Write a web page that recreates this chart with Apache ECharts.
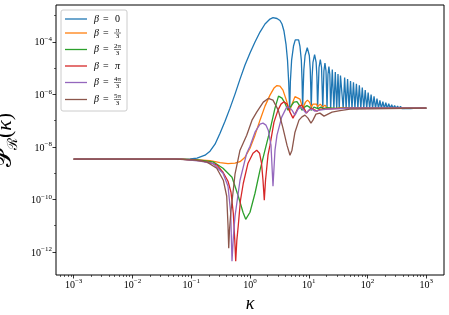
<!DOCTYPE html>
<html><head><meta charset="utf-8">
<script src="https://cdn.jsdelivr.net/npm/echarts@6/dist/echarts.min.js"></script>
<style>html,body{margin:0;padding:0;background:#fff}#c{width:449px;height:315px}</style>
</head><body><div id="c"></div>
<script>
// Values, stored as base-10 exponents (log10 kappa, log10 P)
const betaNum = ['0','π','2π','π','4π','5π'];
const betaDen = ['','3','3','','3','3'];
const xTickExp = [-3,-2,-1,0,1,2,3];
const yTickExp = [-12,-10,-8,-6,-4];
const yMinorExp = [-11,-9,-7,-5,-3];

const blueLogK = [-3,-1.19,-1.02,-0.901,-0.765,-0.68,-0.595,-0.51,-0.425,-0.34,-0.255,-0.17,-0.085,0,0.085,0.17,0.255,0.34,0.391,0.459,0.51,0.544,0.578,0.612,0.638,0.658,0.675,
 0.687,0.708,0.740,0.770,0.798,0.827,0.849,0.873,0.886,0.895,
 0.904,0.916,0.937,0.974,1.009,1.025,1.035,1.041,
 1.0565,1.071,1.099,1.125,1.138,1.150,
 1.174,1.196,1.217,1.238,
 1.257,1.275,1.293,1.310,
 1.326,1.342,1.358,1.372,
 1.400,1.427,1.451,1.475,1.497,1.518,1.539,
 1.56,1.585,1.61,1.635,1.66,1.685,1.71,1.735,1.76,1.785,1.81,1.835,1.86,1.885,1.91,1.935,1.96,1.985,2.01,2.035,2.06,2.085,2.11,2.135,2.16,2.185,2.21,2.235,2.26,2.285,2.31,2.335,2.36,2.385,2.41,2.435,2.46,2.485,2.51,2.535,2.56,2.585,2.61,2.635,2.66,2.685,2.71,2.735,2.76,2.785,2.81,2.835,2.86,2.885,2.91,2.935,2.96,2.985,3.0];
const blueLogP = [-8.469,-8.469,-8.461,-8.431,-8.317,-8.164,-7.897,-7.478,-7.021,-6.525,-5.992,-5.42,-4.887,-4.429,-4.01,-3.629,-3.324,-3.134,-3.084,-3.114,-3.191,-3.324,-3.591,-4.086,-4.696,-5.534,-6.602,
 -5.496,-4.696,-4.162,-3.927,-3.858,-3.927,-4.162,-4.696,-5.496,-6.602,
 -5.83,-5.054,-4.521,-4.22,-4.521,-5.054,-5.83,-6.602,
 -5.32,-4.787,-4.486,-4.787,-5.32,-6.55,
 -4.978,-4.677,-4.978,-6.55,
 -5.11,-4.81,-5.11,-6.55,
 -5.245,-4.944,-5.245,-6.55,
 -5.058,-6.55,-5.153,-6.55,-5.23,-6.55,-5.287,
 -5.268,-6.54,-5.36,-6.54,-5.42,-6.54,-5.49,-6.54,-5.545,-6.54,-5.60,-6.54,-5.66,-6.54,-5.74,-6.54,-5.84,-6.54,-5.93,-6.54,-6.01,-6.54,-6.08,-6.54,-6.16,-6.54,-6.23,-6.54,-6.28,-6.54,-6.32,-6.54,-6.36,-6.54,-6.40,-6.54,-6.425,-6.54,-6.445,-6.54,-6.46,-6.54,-6.475,-6.54,-6.487,-6.54,-6.496,-6.54,-6.504,-6.538,-6.511,-6.535,-6.516,-6.532,-6.521,-6.53,-6.524,-6.528,-6.525];

const orangeLogK = [-3,-1.19,-0.935,-0.68,-0.51,-0.374,-0.255,-0.17,-0.085,0,0.085,0.17,0.255,0.34,0.408,0.459,0.51,0.561,0.612,0.675,0.714,0.765,0.799,0.85,0.898,0.944,0.978,1.012,1.044,1.071,1.099,1.131,1.15,1.196,1.238,1.275,1.31,1.342,1.372,1.4,1.427,1.451,1.475,1.531,1.701,3];
const orangeLogP = [-8.469,-8.469,-8.488,-8.526,-8.602,-8.64,-8.621,-8.564,-8.393,-8.05,-7.554,-6.983,-6.449,-6.03,-5.763,-5.668,-5.687,-5.839,-6.182,-6.64,-6.373,-6.087,-6.03,-6.182,-6.525,-6.297,-6.22,-6.297,-6.487,-6.373,-6.316,-6.373,-6.468,-6.373,-6.487,-6.411,-6.506,-6.449,-6.525,-6.48,-6.533,-6.498,-6.537,-6.514,-6.525,-6.525];

const greenLogK = [-3,-1.19,-0.85,-0.629,-0.459,-0.306,-0.204,-0.119,-0.073,0,0.085,0.17,0.255,0.34,0.425,0.485,0.544,0.595,0.646,0.697,0.748,0.799,0.85,0.884,0.927,0.969,1.012,1.046,1.088,1.122,1.156,1.207,1.25,1.31,1.446,1.701,3];
const greenLogP = [-8.469,-8.469,-8.507,-8.572,-8.812,-9.155,-9.841,-10.489,-10.756,-10.489,-9.765,-8.888,-8.126,-7.364,-6.525,-6.068,-6.144,-6.335,-6.602,-6.449,-6.297,-6.278,-6.449,-6.602,-6.487,-6.43,-6.487,-6.602,-6.487,-6.449,-6.545,-6.487,-6.545,-6.506,-6.537,-6.525,-6.525];

const redLogK = [-3,-1.19,-0.85,-0.68,-0.561,-0.459,-0.374,-0.323,-0.284,-0.259,-0.243,-0.224,-0.199,-0.162,-0.114,-0.034,0.051,0.114,0.162,0.196,0.221,0.243,0.264,0.306,0.34,0.408,0.476,0.527,0.578,0.629,0.68,0.731,0.782,0.833,0.876,0.918,0.961,1.003,1.046,1.088,1.139,1.19,1.276,1.446,1.701,3];
const redLogP = [-8.469,-8.469,-8.526,-8.602,-8.697,-8.964,-9.307,-9.727,-10.527,-11.556,-12.356,-11.556,-10.984,-10.031,-9.384,-8.621,-8.24,-8.126,-8.24,-8.621,-9.269,-10.031,-9.269,-8.317,-7.935,-7.059,-6.602,-6.373,-6.285,-6.373,-6.678,-6.906,-6.678,-6.449,-6.411,-6.525,-6.716,-6.602,-6.525,-6.582,-6.64,-6.563,-6.563,-6.545,-6.525,-6.525];

const purpleLogK = [-3,-1.19,-0.85,-0.629,-0.459,-0.374,-0.328,-0.306,-0.281,-0.255,-0.17,-0.056,0,0.085,0.17,0.221,0.272,0.311,0.357,0.391,0.425,0.459,0.539,0.624,0.663,0.714,0.765,0.816,0.859,0.901,0.952,1.003,1.054,1.105,1.19,1.31,1.531,1.701,3];
const purpleLogP = [-8.469,-8.469,-8.545,-8.632,-9.002,-9.498,-10.527,-12.356,-11.366,-10.641,-9.269,-8.24,-7.974,-7.44,-7.135,-7.097,-7.173,-7.364,-7.935,-9.498,-8.126,-7.554,-6.868,-6.487,-6.487,-6.602,-6.792,-6.563,-6.487,-6.563,-6.716,-6.602,-6.563,-6.64,-6.602,-6.563,-6.545,-6.525,-6.525];

const brownLogK = [-3,-1.276,-0.935,-0.736,-0.566,-0.454,-0.396,-0.374,-0.362,-0.349,-0.328,-0.255,-0.17,-0.056,0.034,0.114,0.226,0.311,0.391,0.481,0.561,0.629,0.68,0.714,0.765,0.833,0.884,0.935,0.986,1.037,1.071,1.122,1.19,1.259,1.327,1.395,1.531,1.701,3];
const brownLogP = [-8.469,-8.469,-8.507,-8.572,-8.812,-9.269,-9.879,-10.984,-11.861,-11.175,-10.527,-9.041,-8.126,-7.554,-6.983,-6.678,-6.297,-6.156,-6.22,-6.602,-7.287,-7.935,-8.317,-8.126,-7.44,-6.983,-6.857,-6.792,-6.906,-7.097,-6.983,-6.754,-6.716,-6.83,-6.754,-6.678,-6.621,-6.563,-6.525];

const seriesK = [blueLogK, orangeLogK, greenLogK, redLogK, purpleLogK, brownLogK];
const seriesP = [blueLogP, orangeLogP, greenLogP, redLogP, purpleLogP, brownLogP];
const colors = ['#1f77b4','#ff7f0e','#2ca02c','#d62728','#9467bd','#8c564b'];

const minorX = [];
for (let n = -4; n <= 3; n++) for (let m = 2; m <= 9; m++) { const v = n + Math.log10(m); if (v > -3.3 && v < 3.3) minorX.push(v); }

const chart = echarts.init(document.getElementById('c'), null, {renderer: 'canvas'});
const serif = "'Liberation Serif','DejaVu Serif',serif";
const powRich = {
  b: {fontFamily: serif, fontSize: 10, color: '#000', verticalAlign: 'bottom', lineHeight: 12},
  s: {fontFamily: serif, fontSize: 7, color: '#000', verticalAlign: 'bottom', lineHeight: 12, padding: [0,0,5,0]}
};
const powFmt = v => '{b|10}{s|' + (v < 0 ? '\u2212' + Math.abs(Math.round(v)) : Math.round(v)) + '}';

const series = seriesK.map((ks, i) => ({
  type: 'line', xAxisIndex: 0, yAxisIndex: 0,
  data: ks.map((k, j) => [k, seriesP[i][j]]),
  showSymbol: false, symbol: 'none', smooth: false,
  lineStyle: {width: 1.3, color: colors[i]}, itemStyle: {color: colors[i]},
  animation: false, z: 2 + i
}));

// legend built as graphic
const rowY = [19, 33, 49.5, 66, 82.5, 99.5];
const g = [{type: 'rect', shape: {x: 61, y: 10, width: 66, height: 101, r: 2}, style: {fill: 'rgba(255,255,255,0.8)', stroke: '#cccccc', lineWidth: 1}, z: 50}];
rowY.forEach((y, i) => {
  g.push({type: 'line', shape: {x1: 65, y1: y, x2: 87, y2: y}, style: {stroke: colors[i], lineWidth: 1.3}, z: 51});
  g.push({type: 'text', x: 94, y: y, style: {text: 'β', font: 'italic 10px ' + serif, fill: '#000', verticalAlign: 'middle'}, z: 51});
  g.push({type: 'text', x: 103, y: y, style: {text: '=', font: '10px ' + serif, fill: '#000', verticalAlign: 'middle'}, z: 51});
  if (betaDen[i] === '') {
    g.push({type: 'text', x: 115, y: y, style: {text: betaNum[i], font: (betaNum[i]==='π'?'italic ':'') + '10px ' + serif, fill: '#000', verticalAlign: 'middle'}, z: 51});
  } else {
    g.push({type: 'text', x: 117.5, y: y - 3.2, style: {text: betaNum[i], font: '7px ' + serif, fill: '#000', align: 'center', verticalAlign: 'middle'}, z: 51});
    g.push({type: 'line', shape: {x1: 114, y1: y, x2: 121, y2: y}, style: {stroke: '#000', lineWidth: 0.5}, z: 51});
    g.push({type: 'text', x: 117.5, y: y + 3.6, style: {text: betaDen[i], font: '7px ' + serif, fill: '#000', align: 'center', verticalAlign: 'middle'}, z: 51});
  }
});

chart.setOption({
  animation: false,
  backgroundColor: '#fff',
  grid: {left: 56, right: 5, top: 5, bottom: 40, containLabel: false, outerBoundsMode: 'none', show: true, borderColor: '#000', borderWidth: 1, backgroundColor: 'transparent'},
  xAxis: [{
    type: 'value', min: -3.3, max: 3.3, position: 'bottom',
    axisLine: {show: false, onZero: false}, splitLine: {show: false},
    axisTick: {show: true, customValues: xTickExp, length: 3.5, lineStyle: {color: '#000', width: 0.8}},
    axisLabel: {show: true, customValues: xTickExp, formatter: powFmt, rich: powRich, margin: 3},
    name: 'κ', nameLocation: 'middle', nameGap: 19,
    nameTextStyle: {fontFamily: serif, fontStyle: 'italic', fontSize: 18, color: '#000'}
  }, {
    type: 'value', min: -3.3, max: 3.3, position: 'bottom',
    axisLine: {show: false, onZero: false}, splitLine: {show: false},
    axisTick: {show: true, customValues: minorX, length: 2, lineStyle: {color: '#000', width: 0.6}},
    axisLabel: {show: false}
  }],
  yAxis: [{
    type: 'value', min: -12.876, max: -2.6, position: 'left',
    axisLine: {show: false, onZero: false}, splitLine: {show: false},
    axisTick: {show: true, customValues: yTickExp, length: 3.5, lineStyle: {color: '#000', width: 0.8}},
    axisLabel: {show: true, customValues: yTickExp, formatter: powFmt, rich: powRich, margin: 4},
    name: '{p|𝒫}{r|ℛ}{q|(}{k|κ}{q|)}', nameLocation: 'middle', nameGap: 24, nameRotate: 90,
    nameTextStyle: {rich: {
      p: {fontFamily: serif, fontSize: 23, color: '#000', verticalAlign: 'bottom', lineHeight: 26},
      r: {fontFamily: serif, fontSize: 14, color: '#000', verticalAlign: 'bottom', lineHeight: 26, padding: [0,0,-4,0]},
      q: {fontFamily: serif, fontSize: 22, color: '#000', verticalAlign: 'bottom', lineHeight: 26},
      k: {fontFamily: serif, fontStyle: 'italic', fontSize: 22, color: '#000', verticalAlign: 'bottom', lineHeight: 26}
    }}
  }, {
    type: 'value', min: -12.876, max: -2.6, position: 'left',
    axisLine: {show: false, onZero: false}, splitLine: {show: false},
    axisTick: {show: true, customValues: yMinorExp, length: 2, lineStyle: {color: '#000', width: 0.6}},
    axisLabel: {show: false}
  }],
  series: series,
  graphic: g
});
</script></body></html>
